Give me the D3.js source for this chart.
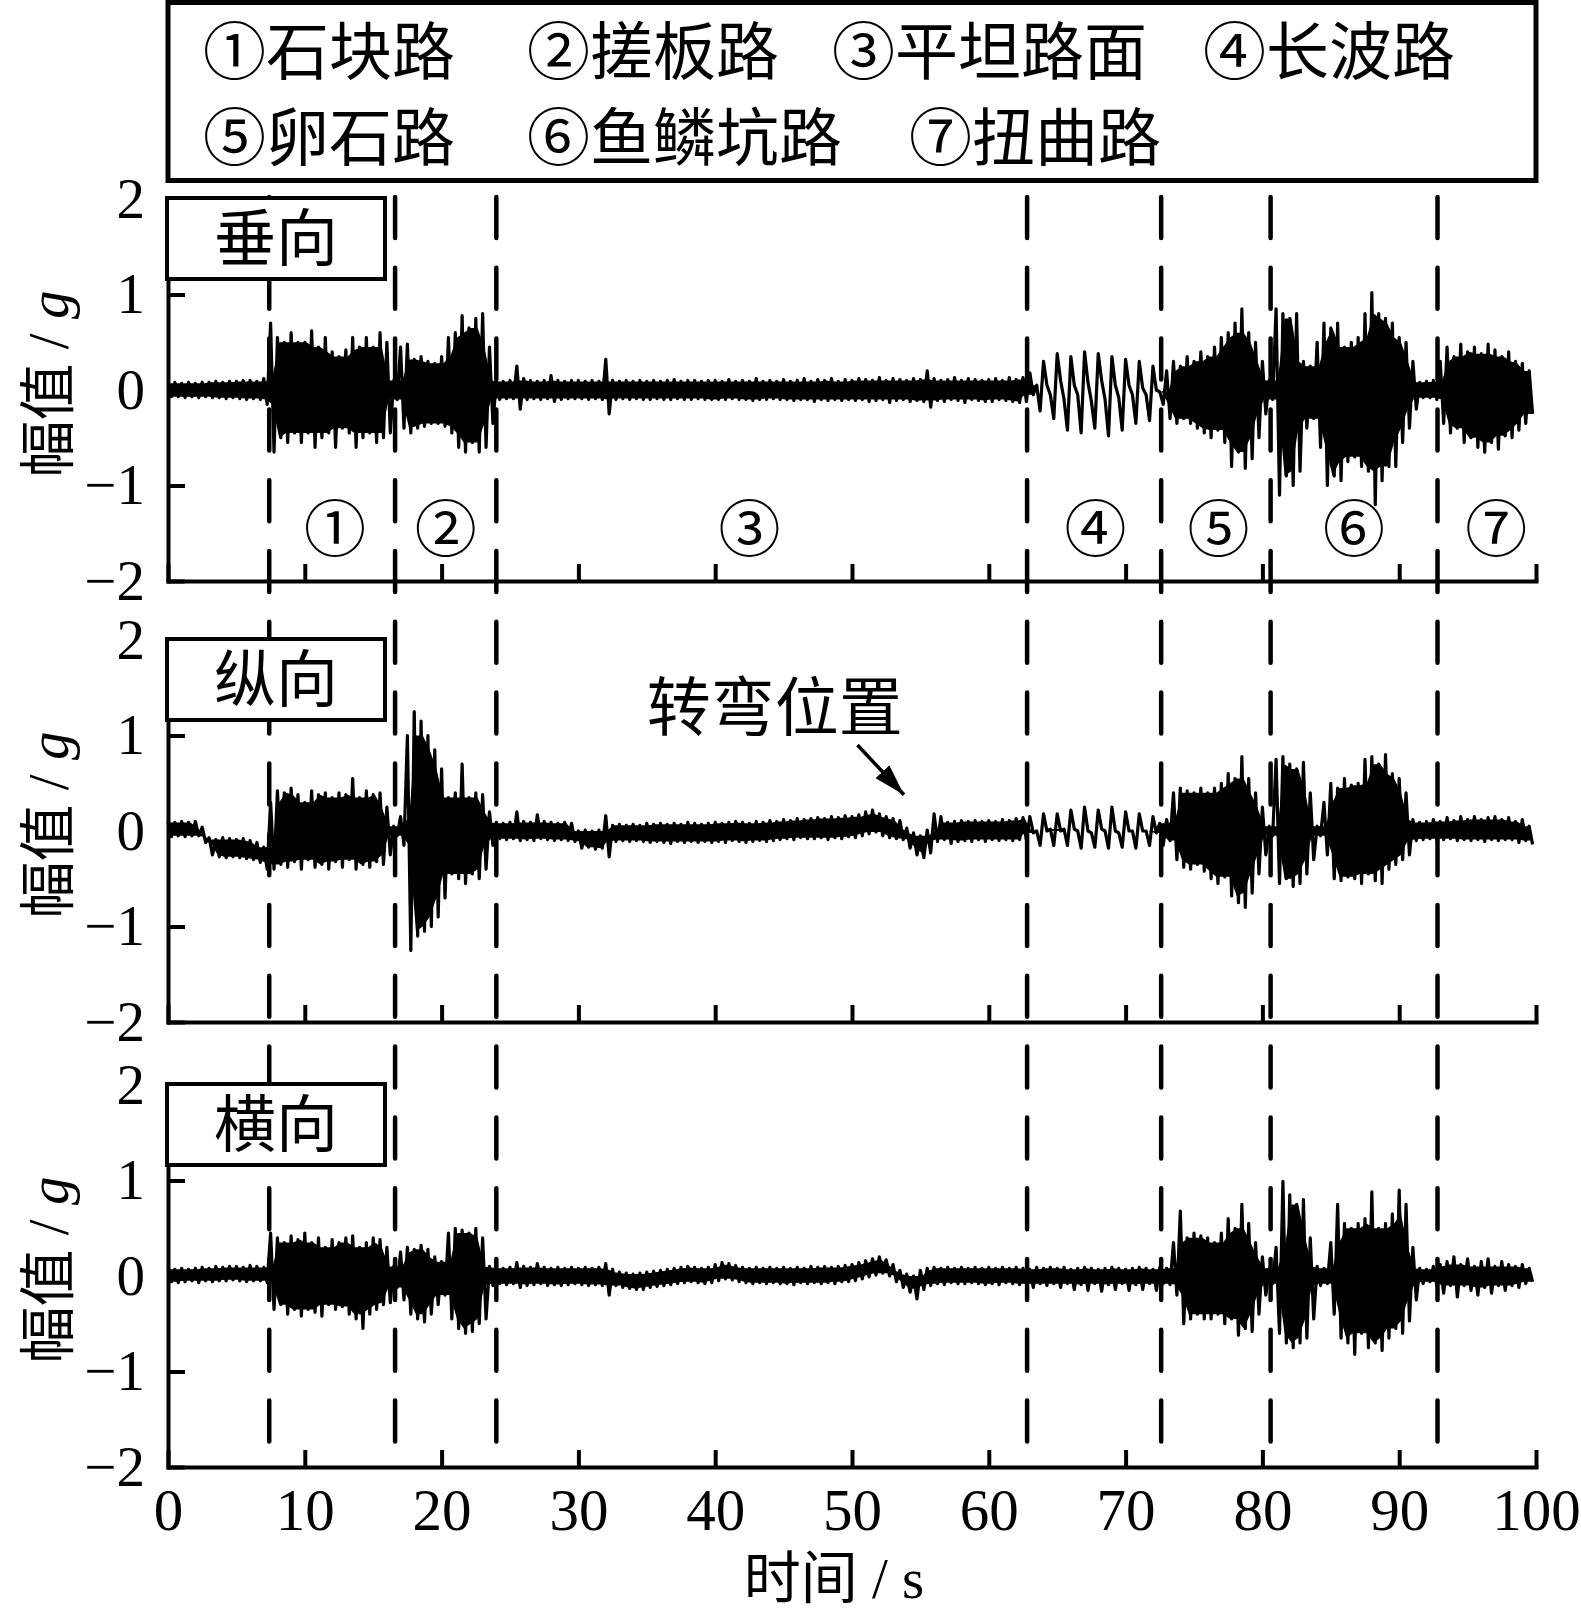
<!DOCTYPE html>
<html lang="zh">
<head>
<meta charset="UTF-8">
<title>三向加速度时域信号</title>
<script src="https://d3js.org/d3.v7.min.js"></script>
<style>
  body { margin: 0; background: #fff; }
  svg { display: block; }
  .cjk { font-family: "Noto Sans CJK SC", sans-serif; }
  .num { font-family: "Liberation Serif", "Times New Roman", serif; }
</style>
</head>
<body>
<svg width="1581" height="1615"></svg>
<script>
// legend entries and road section labels
const legendItems = ["①石块路", "②搓板路", "③平坦路面", "④长波路", "⑤卵石路", "⑥鱼鳞坑路", "⑦扭曲路"];
const sectionLabels = ["①", "②", "③", "④", "⑤", "⑥", "⑦"];
const sectionCenters = [12.2, 20.3, 42.5, 67.8, 76.8, 86.7, 97.1];
const boundaries = [7.4, 16.6, 24.0, 62.8, 72.6, 80.6, 92.8];
const panelNames = ["垂向", "纵向", "横向"];
const xTicks = [0, 10, 20, 30, 40, 50, 60, 70, 80, 90, 100];
const yTicks = [-2, -1, 0, 1, 2];

// signal envelope, one hi/lo pair every 0.5 s (0 .. 99.5 s)
const vertHi = [
  .07,.08,.07,.08,.07,.08,.08,.09,.08,.09,
  .09,.10,.10,.09,.12,.70,.55,.50,.60,.50,
  .50,.62,.45,.55,.40,.35,.42,.55,.45,.55,
  .45,.60,.50,.10,.45,.48,.32,.35,.30,.28,
  .35,.55,.60,.78,.65,.75,.80,.45,.10,.09,
  .10,.25,.12,.10,.09,.10,.15,.10,.09,.10,
  .10,.09,.10,.09,.32,.10,.09,.10,.09,.10,
  .09,.10,.09,.10,.11,.09,.10,.10,.09,.10,
  .10,.09,.11,.09,.10,.09,.12,.09,.10,.09,
  .11,.09,.10,.12,.09,.11,.10,.12,.09,.11,
  .10,.12,.11,.10,.13,.10,.12,.11,.10,.12,
  .11,.20,.12,.10,.11,.13,.10,.12,.11,.10,
  .11,.12,.10,.13,.11,.13,.18,.05,.30,-.05,
  .38,-.10,.35,-.05,.40,-.12,.38,-.10,.35,-.08,
  .32,-.05,.30,-.05,.25,-.02,.20,.30,.25,.35,
  .30,.40,.35,.45,.55,.60,.70,.85,.60,.50,
  .30,.10,.85,.80,.75,.80,.30,.25,.50,.70,
  .65,.70,.45,.50,.55,.80,1.02,.80,.75,.70,
  .55,.50,.30,.08,.09,.10,.30,.45,.35,.48,
  .40,.45,.38,.48,.42,.35,.40,.30,.28,.20
];
const vertLo = [
  -.07,-.07,-.08,-.07,-.08,-.07,-.08,-.08,-.09,-.08,
  -.09,-.10,-.09,-.10,-.15,-.65,-.50,-.55,-.45,-.55,
  -.45,-.60,-.50,-.45,-.60,-.40,-.45,-.60,-.50,-.45,
  -.55,-.50,-.45,-.10,-.40,-.45,-.40,-.38,-.35,-.35,
  -.38,-.45,-.60,-.65,-.55,-.65,-.60,-.35,-.10,-.09,
  -.09,-.20,-.10,-.09,-.10,-.09,-.12,-.10,-.09,-.09,
  -.09,-.10,-.09,-.10,-.25,-.10,-.09,-.10,-.09,-.10,
  -.10,-.09,-.10,-.10,-.09,-.10,-.10,-.09,-.10,-.10,
  -.10,-.10,-.09,-.10,-.10,-.11,-.10,-.10,-.09,-.10,
  -.10,-.11,-.10,-.10,-.12,-.10,-.11,-.10,-.11,-.10,
  -.11,-.10,-.12,-.11,-.10,-.13,-.11,-.10,-.12,-.11,
  -.12,-.18,-.11,-.12,-.10,-.11,-.13,-.10,-.11,-.12,
  -.12,-.10,-.11,-.12,-.13,-.12,-.05,-.22,.05,-.30,
  .10,-.42,.05,-.45,.08,-.40,.10,-.48,.05,-.42,
  .05,-.35,.02,-.32,.00,-.15,-.30,-.35,-.30,-.35,
  -.40,-.45,-.50,-.42,-.55,-.80,-.65,-.82,-.72,-.50,
  -.25,-.10,-1.10,-.90,-1.00,-.85,-.40,-.30,-.60,-1.00,
  -.90,-.95,-.75,-.70,-.80,-.85,-1.20,-.95,-.80,-.80,
  -.55,-.40,-.20,-.08,-.08,-.10,-.35,-.45,-.40,-.55,
  -.50,-.60,-.65,-.55,-.62,-.48,-.50,-.42,-.35,-.25
];
const longHi = [
  .10,.09,.10,.09,.10,.04,-.07,-.09,-.07,-.08,
  -.09,-.08,-.10,-.12,-.17,.30,.42,.40,.45,.38,
  .30,.42,.38,.40,.35,.40,.38,.55,.35,.42,
  .38,.40,.25,.05,.15,1.00,1.25,1.15,1.00,.85,
  .65,.35,.40,.70,.35,.40,.38,.20,.09,.08,
  .09,.20,.10,.09,.17,.10,.09,.08,.09,.08,
  .00,.01,.00,.01,.16,.06,.07,.06,.07,.06,
  .08,.07,.08,.07,.08,.07,.09,.08,.07,.08,
  .09,.08,.09,.10,.09,.08,.10,.09,.11,.10,
  .12,.11,.13,.12,.13,.14,.13,.15,.14,.16,
  .15,.17,.20,.22,.18,.15,.13,.11,.03,-.02,
  -.05,.01,.18,.15,.09,.10,.11,.10,.11,.10,
  .11,.10,.12,.11,.13,.14,.15,.00,.18,.02,
  .18,.02,.22,.00,.25,-.02,.22,.00,.25,-.02,
  .20,.00,.18,.00,.15,.08,.12,.40,.45,.42,
  .40,.45,.40,.45,.50,.60,.55,.78,.55,.40,
  .25,.05,.75,.78,.70,.65,.72,.40,.05,.30,
  .50,.45,.55,.48,.50,.75,.78,.70,.80,.60,
  .55,.40,.12,.09,.10,.12,.10,.14,.11,.15,
  .12,.15,.12,.14,.15,.12,.14,.10,.12,.05
];
const longLo = [
  -.06,-.05,-.06,-.05,-.05,-.12,-.25,-.27,-.28,-.27,
  -.28,-.29,-.30,-.33,-.40,-.40,-.35,-.38,-.32,-.40,
  -.30,-.38,-.35,-.40,-.32,-.38,-.30,-.40,-.35,-.38,
  -.32,-.35,-.25,-.05,-.15,-1.25,-1.10,-1.05,-1.00,-.90,
  -.70,-.45,-.50,-.55,-.45,-.50,-.40,-.15,-.08,-.09,
  -.08,-.10,-.09,-.10,-.08,-.09,-.10,-.09,-.10,-.11,
  -.18,-.17,-.19,-.18,-.27,-.11,-.10,-.11,-.10,-.11,
  -.12,-.11,-.12,-.13,-.11,-.12,-.11,-.12,-.11,-.12,
  -.11,-.12,-.10,-.11,-.12,-.11,-.10,-.11,-.10,-.09,
  -.08,-.09,-.07,-.08,-.08,-.07,-.09,-.07,-.08,-.06,
  -.07,-.05,-.03,-.01,-.05,-.07,-.08,-.09,-.18,-.25,
  -.28,-.23,-.11,-.09,-.13,-.11,-.10,-.11,-.09,-.11,
  -.09,-.10,-.09,-.10,-.09,-.10,-.02,-.15,.00,-.15,
  .00,-.15,.02,-.18,.00,-.17,.02,-.18,.00,-.17,
  .00,-.18,.00,-.15,-.02,-.15,-.10,-.30,-.38,-.40,
  -.35,-.42,-.50,-.55,-.48,-.68,-.75,-.80,-.65,-.45,
  -.25,-.05,-.55,-.50,-.58,-.55,-.45,-.30,-.05,-.25,
  -.50,-.52,-.48,-.50,-.55,-.45,-.52,-.55,-.40,-.35,
  -.30,-.25,-.10,-.09,-.08,-.10,-.09,-.08,-.10,-.09,
  -.10,-.09,-.11,-.09,-.10,-.09,-.09,-.12,-.10,-.14
];
const latHi = [
  .08,.07,.08,.07,.08,.09,.08,.10,.09,.10,
  .10,.09,.11,.10,.09,.45,.40,.35,.42,.38,
  .45,.35,.40,.30,.38,.35,.40,.42,.30,.35,
  .40,.38,.30,.10,.25,.30,.28,.32,.28,.20,
  .15,.45,.50,.48,.45,.50,.40,.10,.09,.08,
  .09,.14,.10,.09,.13,.09,.08,.09,.08,.09,
  .08,.09,.08,.09,.13,.07,.04,.03,.02,.03,
  .04,.05,.06,.07,.08,.09,.10,.09,.08,.09,
  .12,.14,.13,.11,.09,.08,.09,.08,.09,.08,
  .09,.08,.09,.08,.10,.09,.10,.09,.10,.11,
  .12,.14,.16,.18,.20,.17,.12,.06,.02,.00,
  .06,.08,.09,.08,.09,.08,.09,.08,.09,.08,
  .09,.08,.09,.08,.09,.08,.07,.09,.08,.09,
  .08,.09,.07,.08,.09,.08,.07,.08,.09,.08,
  .07,.08,.09,.08,.07,.09,.08,.35,.68,.40,
  .45,.42,.40,.35,.45,.60,.50,.75,.55,.35,
  .20,.08,.30,.99,.85,.75,.80,.40,.10,.08,
  .35,.75,.55,.50,.55,.60,.88,.50,.55,.65,
  .90,.75,.30,.08,.07,.10,.12,.15,.20,.12,
  .18,.10,.15,.18,.10,.15,.12,.10,.12,.08
];
const latLo = [
  -.06,-.07,-.06,-.05,-.07,-.05,-.06,-.05,-.05,-.04,
  -.05,-.06,-.05,-.05,-.07,-.35,-.30,-.40,-.35,-.42,
  -.35,-.38,-.42,-.30,-.35,-.32,-.40,-.45,-.55,-.40,
  -.35,-.30,-.28,-.12,-.25,-.40,-.45,-.48,-.40,-.30,
  -.20,-.45,-.55,-.60,-.58,-.50,-.45,-.10,-.08,-.09,
  -.08,-.12,-.10,-.09,-.08,-.10,-.09,-.10,-.09,-.08,
  -.09,-.10,-.09,-.10,-.20,-.10,-.12,-.13,-.14,-.14,
  -.12,-.11,-.10,-.09,-.08,-.07,-.06,-.07,-.08,-.07,
  -.05,-.03,-.04,-.06,-.07,-.08,-.07,-.08,-.07,-.08,
  -.08,-.09,-.07,-.08,-.07,-.08,-.07,-.08,-.06,-.06,
  -.05,-.03,-.01,.01,.03,.00,-.06,-.12,-.17,-.24,
  -.14,-.10,-.08,-.09,-.07,-.08,-.08,-.07,-.08,-.09,
  -.08,-.09,-.07,-.08,-.09,-.08,-.12,-.08,-.10,-.08,
  -.12,-.08,-.14,-.09,-.15,-.08,-.16,-.09,-.14,-.08,
  -.15,-.09,-.14,-.08,-.15,-.08,-.09,-.20,-.50,-.45,
  -.40,-.45,-.45,-.40,-.50,-.45,-.62,-.55,-.58,-.40,
  -.20,-.08,-.60,-.70,-.75,-.70,-.65,-.45,-.10,-.08,
  -.40,-.65,-.70,-.82,-.60,-.75,-.70,-.78,-.65,-.55,
  -.60,-.47,-.25,-.08,-.06,-.10,-.18,-.10,-.22,-.10,
  -.15,-.20,-.12,-.18,-.10,-.15,-.10,-.12,-.08,-.06
];
const sampleStep = 0.5;

const svg = d3.select("svg");

// layout
const left = 168, right = 1536;
const panelTops = [199, 640, 1085];
const panelH = 382;
const axisW = 4;
const tickLen = 17;

const x = d3.scaleLinear().domain([0, 100]).range([left, right]);

const series = [[vertHi, vertLo], [longHi, longLo], [latHi, latLo]];

const panels = panelTops.map((top, i) => ({
  name: panelNames[i],
  top: top,
  y: d3.scaleLinear().domain([-2, 2]).range([top + panelH, top]),
  hi: series[i][0],
  lo: series[i][1]
}));

// legend box at the top
svg.append("rect")
  .attr("x", left).attr("y", 2.5)
  .attr("width", right - left).attr("height", 178)
  .attr("fill", "#fff").attr("stroke", "#000").attr("stroke-width", 5);

const legendPos = [[203, 74], [527, 74], [832, 74], [1203, 74], [203, 160], [527, 160], [909, 160]];
svg.append("g").selectAll("text")
  .data(legendItems)
  .join("text")
  .attr("class", "cjk")
  .attr("x", (d, i) => legendPos[i][0])
  .attr("y", (d, i) => legendPos[i][1])
  .attr("font-size", 63)
  .text(d => d);

const line = d3.line()
  .x(d => x(d[0]))
  .y(d => d[1]);

const area = d3.area()
  .x(d => x(d.t))
  .y0(d => d.y0)
  .y1(d => d.y1);

panels.forEach((p, pi) => {
  const g = svg.append("g");
  const n = p.hi.length;

  // solid core: the band every neighbouring sample reaches
  const core = p.hi.map((v, i) => {
    const a = Math.max(0, i - 1), b = Math.min(n - 1, i + 1);
    let top = Math.min(p.hi[a], v, p.hi[b]);
    let bot = Math.max(p.lo[a], p.lo[i], p.lo[b]);
    if (top < bot) top = bot = (top + bot) / 2;
    return { t: i * sampleStep + sampleStep / 4, y0: p.y(bot), y1: p.y(top) };
  });
  g.append("path")
    .attr("d", area(core))
    .attr("fill", "#000");

  // zigzag through the hi / lo samples
  const pts = [];
  p.hi.forEach((v, i) => {
    const t = i * sampleStep;
    pts.push([t, p.y(v)]);
    pts.push([t + sampleStep / 2, p.y(p.lo[i])]);
  });
  g.append("path")
    .attr("d", line(pts))
    .attr("fill", "none")
    .attr("stroke", "#000")
    .attr("stroke-width", 3.2)
    .attr("stroke-linejoin", "round");

  // bottom axis, ticks pointing inward
  const xAxis = d3.axisBottom(x)
    .tickValues(xTicks)
    .tickSize(-tickLen)
    .tickSizeOuter(0)
    .tickPadding(21)
    .tickFormat(pi === 2 ? d3.format("d") : "");
  const gx = g.append("g")
    .attr("transform", `translate(0,${p.top + panelH})`)
    .call(xAxis);

  const yAxis = d3.axisLeft(p.y)
    .tickValues(yTicks)
    .tickSize(-tickLen)
    .tickSizeOuter(0)
    .tickPadding(23)
    .tickFormat(d => d < 0 ? "\u2212" + Math.abs(d) : d);
  const gy = g.append("g")
    .attr("transform", `translate(${left},0)`)
    .call(yAxis);

  [gx, gy].forEach(a => {
    a.select(".domain").attr("stroke-width", axisW).attr("stroke-linecap", "square");
    a.selectAll(".tick line").attr("stroke-width", axisW);
    a.selectAll("text")
      .attr("class", "num")
      .attr("font-size", 57)
      .attr("fill", "#000");
  });
  gx.selectAll("text").attr("font-size", 59);

  // y title
  const yt = svg.append("text")
    .attr("transform", `translate(68,${p.y(0) - 6}) rotate(-90)`)
    .attr("text-anchor", "middle")
    .attr("font-size", 57);
  yt.append("tspan").attr("class", "cjk").text("幅值");
  yt.append("tspan").attr("class", "num").attr("xml:space", "preserve").text(" / ");
  yt.append("tspan").attr("class", "num").attr("font-style", "italic").text("g");
});

// section boundaries, dashed across the three panels
svg.append("g").selectAll("line")
  .data(boundaries)
  .join("line")
  .attr("x1", d => x(d)).attr("x2", d => x(d))
  .attr("y1", 197).attr("y2", panelTops[2] + panelH)
  .attr("stroke", "#000")
  .attr("stroke-width", 4.5)
  .attr("stroke-linecap", "round")
  .attr("stroke-dasharray", "41,29.8");

// direction boxes
panels.forEach(p => {
  svg.append("rect")
    .attr("x", left - 1).attr("y", p.top - 1)
    .attr("width", 218).attr("height", 81)
    .attr("fill", "#fff").attr("stroke", "#000").attr("stroke-width", 4);
  svg.append("text")
    .attr("class", "cjk")
    .attr("x", left + 108).attr("y", p.top + 62)
    .attr("text-anchor", "middle")
    .attr("font-size", 62)
    .text(p.name);
});

// road section numbers in the top panel
const p0 = panels[0];
svg.append("g").selectAll("text")
  .data(sectionLabels)
  .join("text")
  .attr("class", "cjk")
  .attr("x", (d, i) => x(sectionCenters[i]))
  .attr("y", p0.y(-1.45) + 24)
  .attr("text-anchor", "middle")
  .attr("font-size", 62)
  .text(d => d);

// turning annotation in the longitudinal panel
const p1 = panels[1];
svg.append("defs").append("marker")
  .attr("id", "head")
  .attr("viewBox", "0 0 10 6")
  .attr("refX", 10).attr("refY", 3)
  .attr("markerWidth", 9).attr("markerHeight", 5.4)
  .attr("markerUnits", "strokeWidth")
  .attr("orient", "auto")
  .append("path").attr("d", "M0,0L10,3L0,6Z").attr("fill", "#000");

svg.append("text")
  .attr("class", "cjk")
  .attr("x", x(35.0)).attr("y", p1.y(1.32) + 25)
  .attr("font-size", 64)
  .text("转弯位置");

svg.append("line")
  .attr("x1", x(50.4)).attr("y1", p1.y(0.9))
  .attr("x2", x(53.8)).attr("y2", p1.y(0.38))
  .attr("stroke", "#000").attr("stroke-width", 3.5)
  .attr("marker-end", "url(#head)");

// x title
const xt = svg.append("text")
  .attr("x", 834).attr("y", 1598)
  .attr("text-anchor", "middle")
  .attr("font-size", 57);
xt.append("tspan").attr("class", "cjk").text("时间");
xt.append("tspan").attr("class", "num").attr("xml:space", "preserve").text(" / s");
</script>
</body>
</html>
